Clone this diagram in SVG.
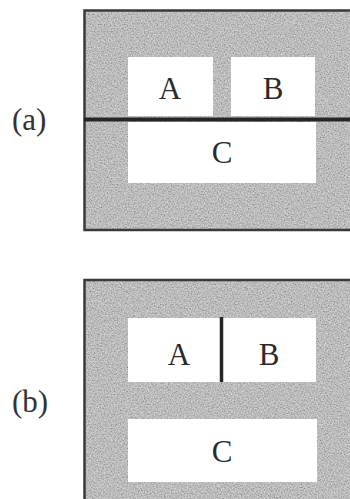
<svg xmlns="http://www.w3.org/2000/svg" width="350" height="499" viewBox="0 0 350 499">
  <defs>
    <filter id="grain" x="0" y="0" width="100%" height="100%" filterUnits="objectBoundingBox">
      <feTurbulence type="fractalNoise" baseFrequency="0.7" numOctaves="2" seed="7" result="n"/>
      <feColorMatrix in="n" type="matrix" values="1.3 0 0 0 -0.05  1.3 0 0 0 -0.05  1.3 0 0 0 -0.05  0 0 0 0 0.55"/>
    </filter>
  </defs>
  <style>
    .bg { fill: #a9a9a9; }
    .grain { fill: #000; filter: url(#grain); }
    .frame { fill: none; stroke: #3a3a3a; stroke-width: 2.5; }
    .box { fill: #ffffff; }
    .lbl { font-family: "Liberation Serif", "Times New Roman", serif; font-size: 31px; fill: #2a2a2a; text-anchor: middle; }
    .plbl { font-family: "Liberation Serif", "Times New Roman", serif; font-size: 31px; fill: #333; }
    .divider { stroke: #262626; fill: none; }
  </style>
  <rect width="350" height="499" fill="#ffffff"/>

  <!-- Panel (a) -->
  <g id="panel-a">
    <rect class="bg" x="84" y="10" width="266" height="220"/>
    <rect class="grain" x="84" y="10" width="266" height="220"/>
    <path class="frame" d="M351 10.5 H84.5 V230 H351"/>
    <text class="plbl" x="12" y="130">(a)</text>
  </g>
  <g id="a-A">
    <rect class="box" x="128" y="57" width="85" height="59"/>
    <text class="lbl" x="170" y="99">A</text>
  </g>
  <g id="a-B">
    <rect class="box" x="231" y="57" width="84" height="59"/>
    <text class="lbl" x="273" y="99">B</text>
  </g>
  <g id="a-C">
    <rect class="box" x="128" y="122" width="188" height="61"/>
    <text class="lbl" x="222" y="163">C</text>
  </g>

  <!-- Panel (b) -->
  <g id="panel-b">
    <rect class="bg" x="84" y="280" width="266" height="219"/>
    <rect class="grain" x="84" y="280" width="266" height="219"/>
    <path class="frame" d="M351 280 H84.5 V500"/>
    <text class="plbl" x="12" y="412">(b)</text>
  </g>
  <g id="b-A">
    <rect class="box" x="128" y="318" width="92" height="64"/>
    <text class="lbl" x="179" y="365">A</text>
  </g>
  <g id="b-B">
    <rect class="box" x="223" y="318" width="93" height="64"/>
    <text class="lbl" x="269" y="365">B</text>
  </g>
  <g id="b-C">
    <rect class="box" x="128" y="419" width="189" height="63"/>
    <text class="lbl" x="222" y="462">C</text>
  </g>

  <!-- Dividing lines -->
  <g id="connectors">
    <line class="divider" x1="84" y1="119.5" x2="350" y2="119.5" stroke-width="4"/>
    <line class="divider" x1="221.5" y1="317" x2="221.5" y2="382" stroke-width="3.5"/>
  </g>
</svg>
